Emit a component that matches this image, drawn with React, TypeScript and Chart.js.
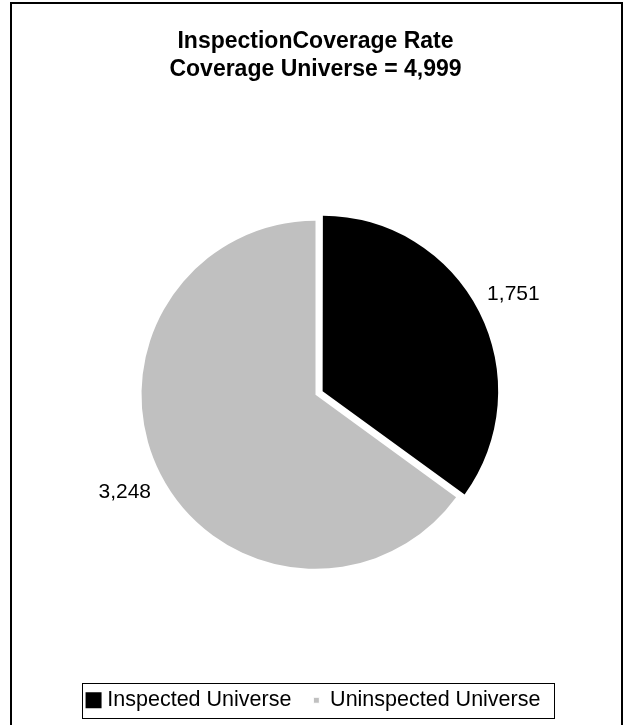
import React, { useEffect, useRef } from "react";
import { Chart, registerables } from "chart.js";

Chart.register(...registerables);

const categories = ["Inspected Universe", "Uninspected Universe"];
const values = [1751, 3248];
const titleLines = ["InspectionCoverage Rate", "Coverage Universe = 4,999"];
const sliceColors = ["#000000", "#c0c0c0"];
// Chart.js draws arcs shifted by offset / 4 pixels
const sliceOffsets = [32, 0];

const FONT = "'Liberation Sans', Arial, Helvetica, sans-serif";

const framePlugin = {
  id: "frame",
  beforeDraw(chart: any) {
    const ctx = chart.ctx;
    ctx.save();
    ctx.fillStyle = "#ffffff";
    ctx.fillRect(0, 0, chart.width, chart.height);
    ctx.strokeStyle = "#000000";
    ctx.lineWidth = 2;
    ctx.strokeRect(11, 3, 611, 760);
    ctx.restore();
  },
  afterDraw(chart: any) {
    const boxes = chart.legend?.legendHitBoxes;
    if (!boxes || !boxes.length) return;
    const ctx = chart.ctx;
    let left = Infinity, right = -Infinity, top = Infinity, bottom = -Infinity;
    for (const b of boxes) {
      left = Math.min(left, b.left);
      right = Math.max(right, b.left + b.width);
      top = Math.min(top, b.top);
      bottom = Math.max(bottom, b.top + b.height);
    }
    ctx.save();
    ctx.strokeStyle = "#000000";
    ctx.lineWidth = 1;
    const x0 = Math.round(left - 9) + 0.5;
    const x1 = Math.round(right + 14) + 0.5;
    const y0 = Math.round(top - 7) + 0.5;
    const y1 = Math.round(bottom + 7) + 0.5;
    ctx.strokeRect(x0, y0, x1 - x0, y1 - y0);
    ctx.restore();
  },
};

const labelPlugin = {
  id: "sliceLabels",
  afterDatasetsDraw(chart: any) {
    const meta = chart.getDatasetMeta(0);
    const ds = chart.data.datasets[0];
    const ctx = chart.ctx;
    ctx.save();
    ctx.font = `21px ${FONT}`;
    ctx.fillStyle = "#000000";
    ctx.textAlign = "center";
    ctx.textBaseline = "middle";
    meta.data.forEach((arc: any, i: number) => {
      const p = arc.getProps(["x", "y", "startAngle", "endAngle", "outerRadius"], true);
      const mid = (p.startAngle + p.endAngle) / 2;
      const shift = ((ds.offset && ds.offset[i]) || 0) / 4;
      const r = p.outerRadius + 40 + shift;
      ctx.fillText(values[i].toLocaleString("en-US"), p.x + Math.cos(mid) * r, p.y + Math.sin(mid) * r);
    });
    ctx.restore();
  },
};

export default function App() {
  const ref = useRef<HTMLCanvasElement>(null);
  useEffect(() => {
    if (!ref.current) return;
    const chart = new Chart(ref.current, {
      type: "pie",
      data: {
        labels: categories,
        datasets: [
          {
            data: values,
            backgroundColor: sliceColors,
            borderWidth: 0,
            offset: sliceOffsets,
          },
        ],
      },
      options: {
        responsive: false,
        animation: false,
        radius: 174,
        layout: { padding: { left: 19, right: 15, top: 0, bottom: 4 } },
        plugins: {
          tooltip: { enabled: false },
          title: {
            display: true,
            text: titleLines,
            color: "#000000",
            font: { family: FONT, size: 23, weight: "bold", lineHeight: 1.2 },
            padding: { top: 28, bottom: 39 },
          },
          legend: {
            display: true,
            position: "bottom",
            onClick: () => {},
            labels: {
              color: "#000000",
              font: { family: FONT, size: 21.5 },
              boxWidth: 6,
              boxHeight: 6,
              padding: 22,
              generateLabels: () =>
                categories.map((c, i) => ({
                  text: c,
                  fillStyle: sliceColors[i],
                  strokeStyle: i === 0 ? sliceColors[i] : "#ffffff",
                  lineWidth: i === 0 ? 10 : 1,
                  lineJoin: "miter",
                  hidden: false,
                  index: i,
                  fontColor: "#000000",
                })),
            },
          },
        },
      } as any,
      plugins: [framePlugin, labelPlugin],
    });
    return () => chart.destroy();
  }, []);
  return (
    <div style={{ position: "fixed", left: 0, top: 0, width: 627, height: 725, background: "#fff" }}>
      <canvas ref={ref} width={627} height={725} style={{ display: "block" }} />
    </div>
  );
}
